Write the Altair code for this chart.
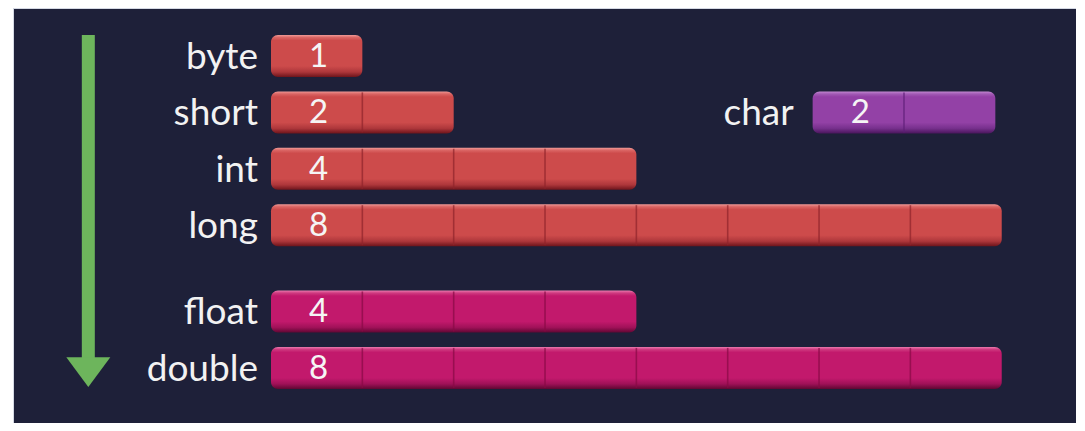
import altair as alt
import pandas as pd

# ---- data ----
types = ["byte", "short", "int", "long", "float", "double", "char"]
sizes = [1, 2, 4, 8, 4, 8, 2]
groups = ["integer", "integer", "integer", "integer", "floating", "floating", "character"]

# ---- layout constants (code, not data) ----
GROUP_GAP = 0.53      # extra vertical gap between integer and floating groups
CHAR_START = 5.93     # char bar sits to the right, on the "short" row
BAR_H = 42
X_DOMAIN = [-2.8246, 8.8132]
Y_DOMAIN = [-0.851, 6.507]

rows, starts = [], []
int_i = 0
flt_i = 0
for t, g in zip(types, groups):
    if g == "integer":
        rows.append(int_i); starts.append(0.0); int_i += 1
    elif g == "floating":
        rows.append(4 + GROUP_GAP + flt_i); starts.append(0.0); flt_i += 1
    else:
        rows.append(types.index("short")); starts.append(CHAR_START)

df = pd.DataFrame({"type": types, "size": sizes, "group": groups,
                   "row": rows, "start": starts})
df["end"] = df["start"] + df["size"]
df["mid1"] = df["start"] + 0.5

# cell dividers
div_rows = []
for _, r in df.iterrows():
    for k in range(1, int(r["size"])):
        div_rows.append({"type": r["type"], "group": r["group"], "row": r["row"],
                         "bx": r["start"] + k})
div = pd.DataFrame(div_rows)

top_row = min(rows)
bottom_row = max(rows)
arrow = pd.DataFrame({"ax": [-2.0], "ytop": [top_row - 0.372],
                      "ybot": [bottom_row - 0.13], "yhead": [bottom_row + 0.075]})

xs = alt.Scale(domain=X_DOMAIN, nice=False, zero=False, padding=0)
ys = alt.Scale(domain=Y_DOMAIN, nice=False, zero=False, reverse=True, padding=0)
X = lambda f: alt.X(f, type="quantitative", scale=xs, axis=None)
Y = lambda f: alt.Y(f, type="quantitative", scale=ys, axis=None)

GREEN = "#6db55c"

shaft = alt.Chart(arrow).mark_rule(color=GREEN, strokeWidth=13).encode(
    x=X("ax"), y=Y("ytop"), y2="ybot")
head = alt.Chart(arrow).mark_point(
    shape="M-1,-0.68L1,-0.68L0,0.68Z", size=1936, filled=True,
    color=GREEN, opacity=1, strokeWidth=0).encode(x=X("ax"), y=Y("yhead"))


def grad(light, mid, main, dark, darkest):
    return alt.LinearGradient(
        gradient="linear", x1=0, x2=0, y1=0, y2=1,
        stops=[alt.GradientStop(offset=0.0, color=light),
               alt.GradientStop(offset=0.06, color=mid),
               alt.GradientStop(offset=0.13, color=main),
               alt.GradientStop(offset=0.74, color=main),
               alt.GradientStop(offset=0.88, color=dark),
               alt.GradientStop(offset=1.0, color=darkest)])


fills = {
    "integer": grad("#f09a97", "#da6564", "#cd4b4b", "#ae373b", "#6e141b"),
    "floating": grad("#ec7cb0", "#cf3a80", "#c2196c", "#a01158", "#600733"),
    "character": grad("#c58ad4", "#a25bb5", "#9341a6", "#77308d", "#4a165d"),
}

bars = [
    alt.Chart(df).transform_filter(alt.datum.group == g).mark_bar(
        color=f, size=BAR_H, cornerRadius=7).encode(x=X("start"), x2="end", y=Y("row"))
    for g, f in fills.items()
]

dividers = alt.Chart(div).mark_tick(orient="vertical", size=BAR_H - 2, thickness=1.6).encode(
    x=X("bx"), y=Y("row"),
    color=alt.Color("group:N", legend=None,
                    scale=alt.Scale(domain=["integer", "floating", "character"],
                                    range=["#8e242b", "#880a44", "#5e1e78"])))

names_main = alt.Chart(df).transform_filter(alt.datum.group != "character").mark_text(
    align="right", baseline="middle", dx=-13, dy=2, font="Lato", fontSize=37,
    color="#f2f2f2").encode(x=X("start"), y=Y("row"), text="type:N")
names_char = alt.Chart(df).transform_filter(alt.datum.group == "character").mark_text(
    align="right", baseline="middle", dx=-19, dy=2, font="Lato", fontSize=37,
    color="#f2f2f2").encode(x=X("start"), y=Y("row"), text="type:N")

nums = alt.Chart(df).mark_text(
    align="center", baseline="middle", dx=2, dy=1, font="Lato", fontSize=33,
    color="#f5f5f5").encode(x=X("mid1"), y=Y("row"), text="size:Q")

chart = alt.layer(shaft, head, *bars, dividers, names_main, names_char, nums).properties(
    width=1063, height=415,
    padding={"left": 5, "top": 0, "right": 0, "bottom": 0},
    autosize=alt.AutoSizeParams(type="none"),
    background="white",
).configure_view(fill="#1e2039", stroke="#d5d9e4", strokeWidth=1)

chart.save("out.html", embed_options={"renderer": "svg", "actions": False})
